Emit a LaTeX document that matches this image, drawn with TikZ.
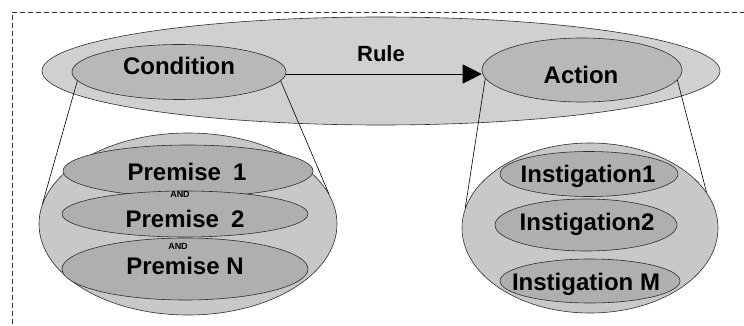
\documentclass[tikz,border=0pt]{standalone}
\usepackage{fontspec}
\setmainfont{Liberation Sans}
\usetikzlibrary{shapes.geometric,arrows.meta}
\definecolor{rulegray}{HTML}{D0D0D0}
\definecolor{midgray}{HTML}{B8B8B8}
\definecolor{outgray}{HTML}{C8C8C8}
\definecolor{ingray}{HTML}{AFAFAF}
\definecolor{edgegray}{HTML}{2E2E2E}
\tikzset{
  ell/.style={ellipse, draw=edgegray, line width=0.6pt, inner sep=0pt},
  big/.style={font=\fontsize{24}{26}\selectfont\bfseries},
  small/.style={font=\fontsize{9}{10}\selectfont\bfseries},
  link/.style={draw=black, line width=0.6pt},
}
\begin{document}
\begin{tikzpicture}[x=1pt,y=-1pt]
\useasboundingbox (0,0) rectangle (744,326);
\fill[white] (0,0) rectangle (744,326);
% frame
\draw[black!80, line width=0.7pt, dash pattern=on 5pt off 3pt] (12,340) -- (12,12) -- (760,12);
% rule
\node[ell, fill=rulegray, minimum width=678pt, minimum height=108pt] (rule) at (381,71) {};
\node[big, font=\fontsize{22}{24}\selectfont\bfseries] (ruletxt) at (381,54) {Rule};
\node[ell, fill=midgray, minimum width=214pt, minimum height=55pt] (cond) at (179,72) {};
\node[big] (condtxt) at (179,66) {Condition};
\node[ell, fill=midgray, minimum width=200pt, minimum height=64pt] (act) at (582,70) {};
\node[big] (acttxt) at (581,75) {Action};
\draw[link, -{Triangle[length=19pt,width=19pt]}] ([yshift=-2pt]cond.east) -- ([yshift=-4pt]act.west);
% bottom outer ellipses (placed first as reference for connectors)
\node[ell, fill=outgray, minimum width=298pt, minimum height=182pt] (lout) at (188,224) {};
\node[ell, fill=outgray, minimum width=256pt, minimum height=170pt] (rout) at (590,228) {};
\draw[link] (cond.185) -- (lout.172);
\draw[link] (cond.-5) -- (lout.12);
\draw[link] (act.185) -- (rout.171);
\draw[link] (act.-6) -- (rout.17);
% bottom left
\node[ell, fill=ingray, minimum width=250pt, minimum height=52pt] (p1) at (188,171) {};
\node[ell, fill=ingray, minimum width=246pt, minimum height=46pt] (p2) at (185,214) {};
\node[ell, fill=ingray, minimum width=246pt, minimum height=62pt] (pn) at (185,269) {};
\node[big] (p1t) at (187,172) {Premise\hspace{0.5em}1};
\node[big] (p2t) at (185,219) {Premise\hspace{0.5em}2};
\node[big] (pnt) at (185,266) {Premise N};
\node[small] (and1) at (180,194) {AND};
\node[small] (and2) at (178,246) {AND};
% bottom right
\node[ell, fill=ingray, minimum width=178pt, minimum height=45pt] (i1) at (589,174) {};
\node[ell, fill=ingray, minimum width=182pt, minimum height=52pt] (i2) at (586,225) {};
\node[ell, fill=ingray, minimum width=180pt, minimum height=44pt] (im) at (590,281) {};
\node[big] (i1t) at (588,176) {Instigation1};
\node[big] (i2t) at (587,224) {Instigation2};
\node[big] (imt) at (586,284) {Instigation M};
\end{tikzpicture}
\end{document}
